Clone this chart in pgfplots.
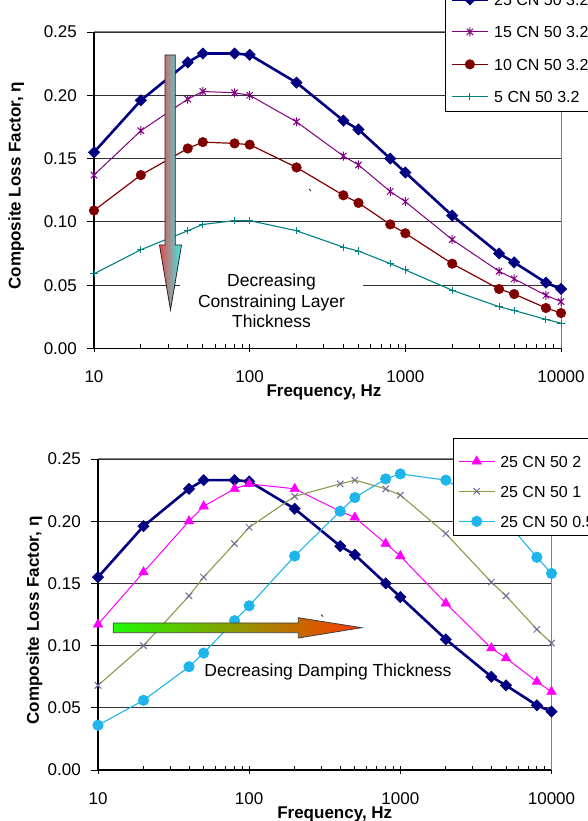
\documentclass[border=0pt]{standalone}
\usepackage{fontspec}
\setmainfont{Liberation Sans}
\usepackage{pgfplots}
\usepackage{pgfplotstable}
\pgfplotsset{compat=1.18}

\definecolor{Navy}{HTML}{000080}
\definecolor{Plum}{HTML}{800080}
\definecolor{Maroon}{HTML}{800000}
\definecolor{Teal}{HTML}{008080}
\definecolor{Magenta}{HTML}{FF00FF}
\definecolor{Olive}{HTML}{8A9A48}
\definecolor{XMark}{HTML}{76679A}
\definecolor{Sky}{HTML}{1EB4EC}
\definecolor{Border}{HTML}{808080}

% Excel-style star: an x with a vertical bar through it
\pgfdeclareplotmark{xstar}{%
  \pgfpathmoveto{\pgfqpoint{-0.707\pgfplotmarksize}{-0.707\pgfplotmarksize}}%
  \pgfpathlineto{\pgfqpoint{0.707\pgfplotmarksize}{0.707\pgfplotmarksize}}%
  \pgfpathmoveto{\pgfqpoint{-0.707\pgfplotmarksize}{0.707\pgfplotmarksize}}%
  \pgfpathlineto{\pgfqpoint{0.707\pgfplotmarksize}{-0.707\pgfplotmarksize}}%
  \pgfpathmoveto{\pgfqpoint{0pt}{-\pgfplotmarksize}}%
  \pgfpathlineto{\pgfqpoint{0pt}{\pgfplotmarksize}}%
  \pgfusepathqstroke}

% constraining layer series: a=25, b=15, c=10, d=5 CN 50 3.2
\pgfplotstableread{
f      a      b      c      d
10     0.155  0.137  0.109  0.059
20     0.196  0.172  0.137  0.078
40     0.226  0.197  0.158  0.093
50     0.233  0.203  0.163  0.098
80     0.233  0.202  0.162  0.101
100    0.232  0.200  0.161  0.101
200    0.210  0.179  0.143  0.093
400    0.180  0.152  0.121  0.080
500    0.173  0.145  0.115  0.077
800    0.150  0.124  0.098  0.067
1000   0.139  0.116  0.091  0.062
2000   0.105  0.086  0.067  0.046
4000   0.075  0.061  0.047  0.033
5000   0.068  0.055  0.043  0.030
8000   0.052  0.042  0.032  0.023
10000  0.047  0.037  0.028  0.020
}\topdata

% damping thickness series: a=3.2, m=2, o=1, s=0.5
\pgfplotstableread{
f      a      m      o      s
10     0.155  0.117  0.068  0.036
20     0.196  0.159  0.100  0.056
40     0.226  0.200  0.140  0.083
50     0.233  0.212  0.155  0.094
80     0.233  0.226  0.182  0.120
100    0.232  0.230  0.195  0.132
200    0.210  0.226  0.220  0.172
400    0.180  0.208  0.230  0.208
500    0.173  0.203  0.233  0.219
800    0.150  0.182  0.226  0.234
1000   0.139  0.172  0.221  0.238
2000   0.105  0.134  0.190  0.233
4000   0.075  0.098  0.151  0.212
5000   0.068  0.090  0.140  0.200
8000   0.052  0.071  0.113  0.171
10000  0.047  0.063  0.102  0.158
}\botdata

\pgfplotsset{
  legend image code/.code={
    \draw[mark repeat=2,mark phase=2,#1,yshift=5.75pt]
      plot coordinates {(0pt,0pt) (18pt,0pt) (36pt,0pt)};
  },
  every axis/.append style={
    scale only axis,
    clip=false,
    ymin=0, ymax=0.25,
    axis lines*=left,
    axis line style={line width=1.6pt, black},
    xtick={10,100,1000,10000},
    xticklabels={10,100,1000,10000},
    ytick={0,0.05,0.1,0.15,0.2,0.25},
    yticklabels={0.00,0.05,0.10,0.15,0.20,0.25},
    ymajorgrids,
    grid style={line width=0.9pt, black!80},
    tick align=outside,
    major tick length=7pt,
    minor tick length=4pt,
    tick style={line width=0.9pt, black},
    tick label style={font=\fontsize{17}{20}\selectfont},
    xticklabel style={anchor=center, inner sep=0pt, yshift=-21.5pt},
    yticklabel style={anchor=east, inner sep=0pt, xshift=-10pt},
    label style={font=\fontsize{17}{20}\selectfont\bfseries},
    legend style={draw=black, line width=1.2pt, fill=white,
      font=\fontsize{16}{19}\selectfont,
      inner xsep=5pt, inner ysep=2pt, column sep=5pt,
      cells={anchor=base west},
      nodes={inner sep=0pt, text height=26.45pt, text depth=6.55pt}},
  },
  every minor x tick/.append style={yshift=4pt},
  every major x tick/.append style={yshift=3.5pt},
}

\begin{document}
\begin{tikzpicture}[x=1pt,y=1pt]
\useasboundingbox (0,0) rectangle (588,821);
\clip (0,0) rectangle (588,821);

\begin{axis}[
  xmode=log, xmin=10, xmax=10000,
  anchor=south west, at={(94pt,472.5pt)}, width=467pt, height=316.5pt,
  xlabel={Frequency, Hz},
  ylabel={Composite Loss Factor, η},
  xlabel style={at={([xshift=-3.5pt,yshift=-43.5pt]axis description cs:0.5,0)}, anchor=center},
  ylabel style={at={([xshift=-77.7pt,yshift=4.5pt]axis description cs:0,0.5)}, anchor=center},
  legend style={at={(axis description cs:0.7516,0.748)}, anchor=south west, row sep=-0.5pt},
]
  \draw[Border, line width=1pt] (rel axis cs:0,1) -- (rel axis cs:1,1) -- (rel axis cs:1,0);
  \addplot[Navy, line width=2.6pt, mark=square*, mark size=4pt,
    mark options={rotate=45, line width=0.5pt, fill=Navy}] table[x=f,y=a]{\topdata};
  \addlegendentry{25 CN 50 3.2}
  \addplot[Plum, line width=1pt, mark=xstar, mark size=4.5pt, mark options={line width=1pt}]
    table[x=f,y=b]{\topdata};
  \addlegendentry{15 CN 50 3.2}
  \addplot[Maroon, line width=1.2pt, mark=*, mark size=4.8pt,
    mark options={line width=0.5pt, fill=Maroon}] table[x=f,y=c]{\topdata};
  \addlegendentry{10 CN 50 3.2}
  \addplot[Teal, line width=1.1pt, mark=+, mark size=3.6pt, mark options={line width=1pt}]
    table[x=f,y=d]{\topdata};
  \addlegendentry{5 CN 50 3.2}
\end{axis}

\node[fill=white, align=center, inner sep=0pt, minimum width=183pt, minimum height=70pt,
  font=\fontsize{17.5}{20.3}\selectfont] at (271.5,520) {Decreasing\\Constraining Layer\\Thickness};

\shadedraw[left color={rgb,255:red,240;green,70;blue,70}, middle color=black!30,
  right color={rgb,255:red,60;green,240;blue,240}, draw=black!85, line width=0.8pt]
  (165,766) -- (175.3,766) -- (175.3,576) -- (181.5,576) -- (170.5,511)
  -- (159.5,576) -- (165,576) -- cycle;
\draw[line width=1pt, black!80] (309,632) -- (311,630);

\begin{axis}[
  xmode=log, xmin=10, xmax=10000,
  anchor=south west, at={(98pt,51pt)}, width=453.5pt, height=311pt,
  xlabel={Frequency, Hz},
  ylabel={Composite Loss Factor, η},
  xlabel style={at={([xshift=10pt,yshift=-44.5pt]axis description cs:0.5,0)}, anchor=center},
  ylabel style={at={([xshift=-63.4pt,yshift=-6pt]axis description cs:0,0.5)}, anchor=center},
  legend style={at={(axis description cs:0.7818,1.0675)}, anchor=north west, row sep=-3pt},
]
  \draw[Border, line width=1pt] (rel axis cs:0,1) -- (rel axis cs:1,1) -- (rel axis cs:1,0);
  \addplot[Navy, line width=2.6pt, mark=square*, mark size=4pt, forget plot,
    mark options={rotate=45, line width=0.5pt, fill=Navy}] table[x=f,y=a]{\botdata};
  \addplot[Magenta, line width=1pt, mark=triangle*, mark size=5.5pt,
    mark options={line width=0.5pt, fill=Magenta}] table[x=f,y=m]{\botdata};
  \addlegendentry{25 CN 50 2}
  \addplot[Olive, line width=1.1pt, mark=x, mark size=4.5pt,
    mark options={draw=XMark, line width=1pt}] table[x=f,y=o]{\botdata};
  \addlegendentry{25 CN 50 1}
  \addplot[Sky, line width=1.1pt, mark=*, mark size=5.3pt,
    mark options={line width=0.5pt, fill=Sky}] table[x=f,y=s]{\botdata};
  \addlegendentry{25 CN 50 0.5}
\end{axis}

% arrow of the lower chart lies over its curves
\shadedraw[left color={rgb,255:red,30;green,250;blue,0}, middle color={rgb,255:red,205;green,200;blue,0},
  right color={rgb,255:red,255;green,55;blue,0}, draw=black!75, line width=0.8pt]
  (113.3,198) -- (298.3,198) -- (298.3,203.3) -- (361.7,193.3) -- (298.3,183)
  -- (298.3,188.3) -- (113.3,188.3) -- cycle;

\node[font=\fontsize{17.5}{21}\selectfont] at (328,149.3) {Decreasing Damping Thickness};
\draw[line width=1pt, black!80] (321,206.5) -- (323,204.5);
\end{tikzpicture}
\end{document}
